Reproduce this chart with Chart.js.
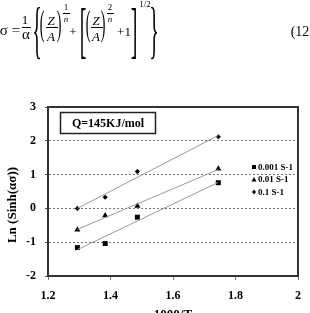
<!DOCTYPE html>
<html>
<head>
<meta charset="utf-8">
<script src="https://cdn.jsdelivr.net/npm/chart.js@4.4.0/dist/chart.umd.min.js"></script>
<style>
  html, body { margin: 0; padding: 0; background: #fff; }
  #wrap { position: relative; width: 310px; height: 313px; overflow: hidden; font-family: "Liberation Serif", serif; color: #000; }
  #c { position: absolute; left: 0; top: 0; }
  .t { position: absolute; line-height: 1; white-space: nowrap; transform: translate(-50%, -50%); }
  .bar { position: absolute; height: 1px; background: #000; }
</style>
</head>
<body>
<div id="wrap">
  <canvas id="c" width="310" height="313"></canvas>
  <div id="eq"></div>
</div>
<script>
// data
const xVals = [1.294, 1.383, 1.486, 1.745];
const rate001 = [-1.16, -1.04, -0.26, 0.76];
const rate01 = [-0.63, -0.21, 0.07, 1.17];
const rate1 = [0.0, 0.33, 1.09, 2.12];
const fitX = [1.294, 1.745];
const fit001 = [-1.22, 0.77];
const fit01 = [-0.62, 1.15];
const fit1 = [0.0, 2.16];
const seriesNames = ["0.001 S-1", "0.01 S-1", "0.1 S-1"];
const xMin = 1.2, xMax = 2, xStep = 0.2;
const yMin = -2, yMax = 3, yStep = 1;

// equation pieces above the chart: [text, cx, cy, size, extra css]
const eq = [
  ["σ =", 10, 30, 15, ""],
  ["1", 25, 19, 13, ""],
  ["α", 26, 34, 15, ""],
  ["{", 37, 29, 20, "transform:translate(-50%,-50%) scaleY(3.2)"],
  ["(", 42, 25, 14, "transform:translate(-50%,-50%) scaleY(2.6)"],
  ["Z", 51, 20, 13, "font-style:italic"],
  ["A", 51, 36, 13, "font-style:italic"],
  [")", 59, 25, 14, "transform:translate(-50%,-50%) scaleY(2.6)"],
  ["1", 66, 7, 9, ""],
  ["n", 66, 19, 9, "font-style:italic"],
  ["+", 73, 31, 13, ""],
  ["[", 83, 29, 20, "transform:translate(-50%,-50%) scaleY(3.1)"],
  ["(", 88, 25, 14, "transform:translate(-50%,-50%) scaleY(2.6)"],
  ["Z", 96, 20, 13, "font-style:italic"],
  ["A", 96, 36, 13, "font-style:italic"],
  [")", 103, 25, 14, "transform:translate(-50%,-50%) scaleY(2.6)"],
  ["2", 110, 7, 9, ""],
  ["n", 110, 19, 9, "font-style:italic"],
  ["+1", 124, 31, 13, ""],
  ["]", 134, 29, 20, "transform:translate(-50%,-50%) scaleY(3.1)"],
  ["1/2", 145, 4, 9, ""],
  ["}", 154, 29, 20, "transform:translate(-50%,-50%) scaleY(3.2)"],
  ["(12", 300, 32, 14, ""]
];
const bars = [[22, 27, 9], [46, 27, 12], [63, 13, 7], [91, 27, 12], [107, 13, 7]];

const eqDiv = document.getElementById("eq");
eq.forEach(p => {
  const s = document.createElement("span");
  s.className = "t";
  s.textContent = p[0];
  s.style.cssText = "left:" + p[1] + "px;top:" + p[2] + "px;font-size:" + p[3] + "px;" + p[4];
  eqDiv.appendChild(s);
});
bars.forEach(b => {
  const d = document.createElement("div");
  d.className = "bar";
  d.style.left = b[0] + "px";
  d.style.top = b[1] + "px";
  d.style.width = b[2] + "px";
  eqDiv.appendChild(d);
});

const pts = ys => xVals.map((x, i) => ({ x: x, y: ys[i] }));
const fit = ys => fitX.map((x, i) => ({ x: x, y: ys[i] }));
const serif = "'Liberation Serif', 'Times New Roman', serif";

const framePlugin = {
  id: "frame",
  afterDraw(chart) {
    const ctx = chart.ctx;
    const a = chart.chartArea;
    ctx.save();
    ctx.strokeStyle = "#333";
    ctx.lineWidth = 2;
    ctx.strokeRect(a.left, a.top, a.right - a.left, a.bottom - a.top);

    // Q box
    ctx.lineWidth = 1.5;
    ctx.strokeStyle = "#222";
    ctx.strokeRect(60.5, 112.5, 95, 21);
    ctx.fillStyle = "#000";
    ctx.font = "bold 12px " + serif;
    ctx.textAlign = "center";
    ctx.textBaseline = "middle";
    ctx.fillText("Q=145KJ/mol", 108, 123.5);

    // legend
    const shapes = ["square", "triangle", "diamond"];
    ctx.font = "bold 9px " + serif;
    ctx.textAlign = "left";
    seriesNames.forEach((name, i) => {
      const y = 167 + i * 12.5;
      const x = 254;
      ctx.beginPath();
      if (shapes[i] === "square") {
        ctx.rect(x - 2, y - 2, 4, 4);
      } else if (shapes[i] === "triangle") {
        ctx.moveTo(x, y - 2.5); ctx.lineTo(x + 2.5, y + 2); ctx.lineTo(x - 2.5, y + 2); ctx.closePath();
      } else {
        ctx.moveTo(x, y - 2.5); ctx.lineTo(x + 2, y); ctx.lineTo(x, y + 2.5); ctx.lineTo(x - 2, y); ctx.closePath();
      }
      ctx.fill();
      ctx.fillText(name, 258, y + 0.5);
    });

    // axis titles
    ctx.font = "bold 13px " + serif;
    ctx.textAlign = "center";
    ctx.fillText("1000/T", (a.left + a.right) / 2, 315);
    ctx.translate(13, 205);
    ctx.rotate(-Math.PI / 2);
    ctx.fillText("Ln (Sinh(ασ))", 0, 0);
    ctx.restore();
  }
};

const ctx = document.getElementById("c").getContext("2d");
new Chart(ctx, {
  type: "scatter",
  data: {
    datasets: [
      { type: "line", data: fit(fit001), borderColor: "#999", borderWidth: 1, pointRadius: 0, fill: false },
      { type: "line", data: fit(fit01), borderColor: "#999", borderWidth: 1, pointRadius: 0, fill: false },
      { type: "line", data: fit(fit1), borderColor: "#999", borderWidth: 1, pointRadius: 0, fill: false },
      { label: seriesNames[0], data: pts(rate001), pointStyle: "rect", pointRadius: 3.5, backgroundColor: "#000", borderColor: "#000", borderWidth: 0 },
      { label: seriesNames[1], data: pts(rate01), pointStyle: "triangle", pointRadius: 3.5, backgroundColor: "#000", borderColor: "#000", borderWidth: 0 },
      { label: seriesNames[2], data: pts(rate1), pointStyle: "rectRot", pointRadius: 2.6, backgroundColor: "#000", borderColor: "#000", borderWidth: 0 }
    ]
  },
  options: {
    responsive: false,
    animation: false,
    layout: { padding: { left: 0, top: 107, right: 6, bottom: 0 } },
    plugins: { legend: { display: false }, tooltip: { enabled: false } },
    scales: {
      x: {
        type: "linear", min: xMin, max: xMax,
        afterFit: s => { s.height = 37; },
        border: { display: true, color: "#333", width: 2 },
        grid: { drawOnChartArea: false, drawTicks: true, tickLength: 4, tickColor: "#777" },
        ticks: {
          stepSize: xStep, padding: 9, color: "#000",
          font: { family: serif, weight: "bold", size: 12 },
          callback: v => String(Math.round(v * 10) / 10)
        }
      },
      y: {
        min: yMin, max: yMax,
        afterFit: s => { s.width = 48; },
        border: { display: true, color: "#333", width: 2, dash: [2, 2] },
        grid: {
          drawTicks: true, tickLength: 3,
          color: c => (c.tick && c.tick.value > yMin && c.tick.value < yMax) ? "#777" : "rgba(0,0,0,0)",
          tickColor: "#555", tickBorderDash: []
        },
        ticks: {
          stepSize: yStep, padding: 9, color: "#000",
          font: { family: serif, weight: "bold", size: 12 }
        }
      }
    }
  },
  plugins: [framePlugin]
});
</script>
</body>
</html>
